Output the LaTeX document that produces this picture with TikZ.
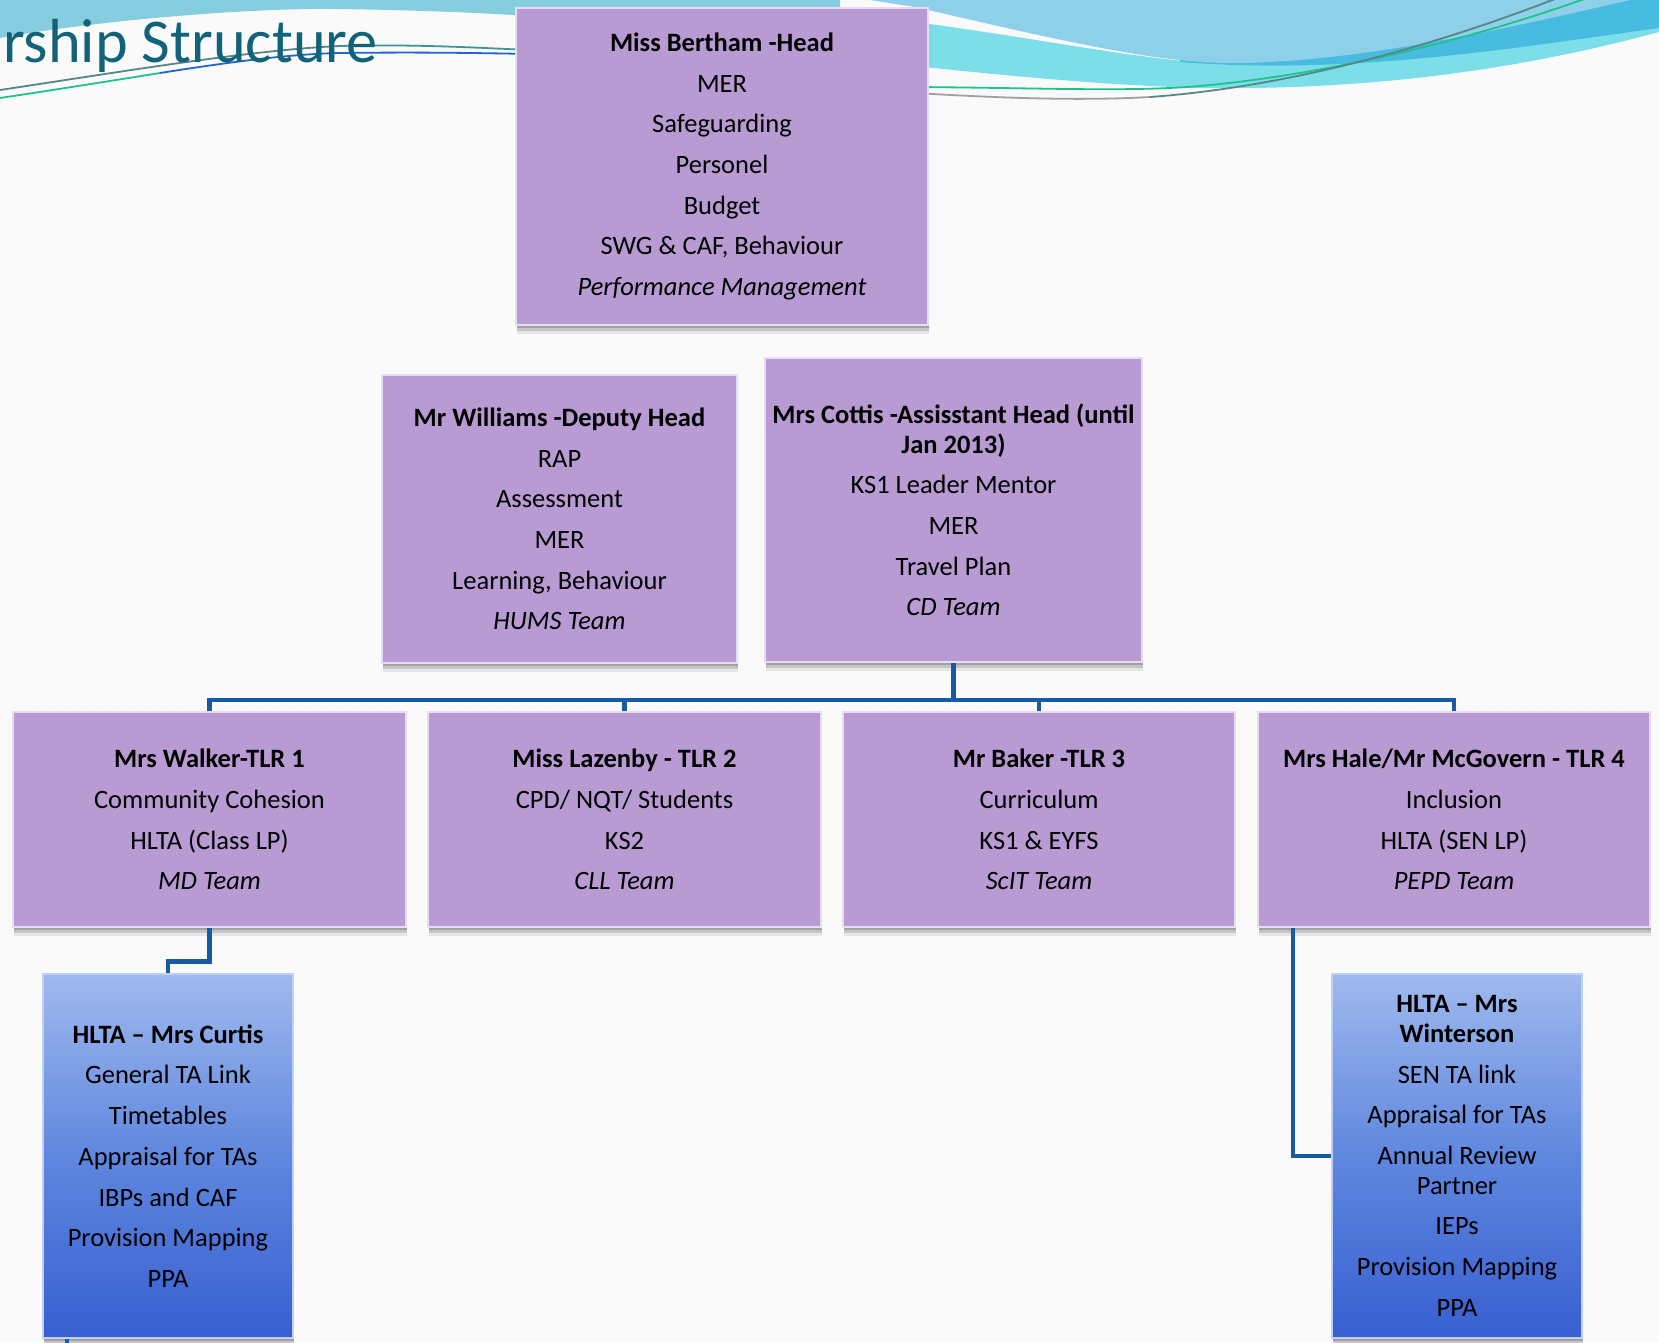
\documentclass[tikz,border=0pt]{standalone}
\usepackage{fontspec}
\setmainfont{Carlito}
\usetikzlibrary{shadows}
\definecolor{bg}{HTML}{FAFAFA}
\definecolor{boxpurple}{RGB}{185,155,211}
\definecolor{boxedge}{RGB}{232,220,243}
\definecolor{conn}{RGB}{25,90,165}
\definecolor{titleblue}{RGB}{18,98,122}
\definecolor{waveA}{RGB}{142,208,234}
\definecolor{waveC}{RGB}{124,222,233}
\definecolor{waveD}{RGB}{72,188,224}
\definecolor{waveL}{RGB}{134,205,223}
\definecolor{lteal}{RGB}{60,150,150}
\definecolor{ltealgrey}{RGB}{90,133,133}
\definecolor{lgreen}{RGB}{30,195,140}
\definecolor{lblue}{RGB}{35,100,205}
\definecolor{lgrey}{RGB}{160,160,160}
\definecolor{bluetop}{RGB}{160,185,238}
\definecolor{bluemid}{RGB}{95,135,222}
\definecolor{bluebot}{RGB}{55,95,208}
\definecolor{blueedge}{RGB}{190,208,245}
\newcommand{\itemgap}{\\[11.1pt]}
\begin{document}
\begin{tikzpicture}[x=1pt,y=-1pt,
  txt/.style={font=\fontsize{26.5}{29.6}\selectfont, align=center, text=black},
  softshadow/.style={
    drop shadow={shadow xshift=1pt, shadow yshift=-3pt, fill=black, opacity=0.18},
    drop shadow={shadow xshift=1pt, shadow yshift=-6pt, fill=black, opacity=0.14},
    drop shadow={shadow xshift=1pt, shadow yshift=-9pt, fill=black, opacity=0.08}},
  pbox/.style={txt, rectangle, fill=boxpurple, draw=boxedge, line width=2.5pt, inner sep=0pt, softshadow},
  bbox/.style={txt, rectangle, top color=bluetop, bottom color=bluebot, middle color=bluemid,
    draw=blueedge, line width=2.5pt, inner sep=0pt, softshadow},
  link/.style={draw=conn, line width=4.5pt},
  wline/.style={line width=1.8pt},
  ]
\useasboundingbox (0,0) rectangle (1659,1342);
\fill[bg] (0,0) rectangle (1659,1342);

% background waves
\fill[waveL] (0,0) -- (0,38) .. controls (100,20) and (250,8) .. (333,9) .. controls (420,10) and (480,13) .. (530,16) -- (530,12) -- (840,12) -- (840,0) -- cycle;
\fill[waveC] (915,22) .. controls (1050,40) and (1150,62) .. (1230,64) .. controls (1400,62) and (1550,20) .. (1659,0) -- (1659,32) .. controls (1500,75) and (1350,90) .. (1200,88) .. controls (1100,85) and (1000,75) .. (915,66) -- cycle;
\fill[waveD] (1180,62) .. controls (1350,75) and (1500,50) .. (1659,28) -- (1659,0) -- (1180,0) -- cycle;
\fill[waveA] (870,0) -- (915,7) .. controls (1050,38) and (1150,62) .. (1225,63) .. controls (1350,64) and (1500,30) .. (1630,0) -- cycle;

% thin swoosh lines
\draw[wline, ltealgrey] (0,90) .. controls (120,72) and (250,50) .. (340,46);
\draw[wline, lteal] (340,46) .. controls (420,44) and (480,48) .. (530,50);
\draw[wline, lgreen] (0,98) .. controls (60,89) and (110,81) .. (160,73);
\draw[wline, lblue] (160,73) .. controls (230,62) and (290,54) .. (340,53) .. controls (420,52) and (480,53) .. (530,54);
\draw[wline, lgreen] (915,87) .. controls (1050,88) and (1130,92) .. (1200,86) .. controls (1330,74) and (1470,40) .. (1590,-3);
\draw[wline, lgrey] (915,93) .. controls (1000,98) and (1080,101) .. (1150,97);
\draw[wline, ltealgrey] (1150,97) .. controls (1300,86) and (1450,40) .. (1560,-3);

% title
\node[anchor=base east, inner sep=0pt, font=\fontsize{62.3}{72}\selectfont, text=titleblue] (title) at (378,62) {rship Structure};

% boxes
\node[pbox, minimum width=412pt, minimum height=317pt] (head) at (722,166.5)
  {\textbf{Miss Bertham -Head}\itemgap MER\itemgap Safeguarding\itemgap Personel\itemgap Budget\itemgap SWG \& CAF, Behaviour\itemgap \textit{Performance Management}};
\node[pbox, minimum width=355pt, minimum height=288pt] (will) at (559.5,519)
  {\textbf{Mr Williams -Deputy Head}\itemgap RAP\itemgap Assessment\itemgap MER\itemgap Learning, Behaviour\itemgap \textit{HUMS Team}};
\node[pbox, minimum width=377pt, minimum height=304pt] (cot) at (953.5,510)
  {\textbf{Mrs Cottis -Assisstant Head (until}\\ \textbf{Jan 2013)}\itemgap KS1 Leader Mentor\itemgap MER\itemgap Travel Plan\itemgap \textit{CD Team}};
\node[pbox, minimum width=393pt, minimum height=215pt] (walk) at (209.5,819.5)
  {\textbf{Mrs Walker-TLR 1}\itemgap Community Cohesion\itemgap HLTA (Class LP)\itemgap \textit{MD Team}};
\node[pbox, minimum width=393pt, minimum height=215pt] (laz) at (624.5,819.5)
  {\textbf{Miss Lazenby - TLR 2}\itemgap CPD/ NQT/ Students\itemgap KS2\itemgap \textit{CLL Team}};
\node[pbox, minimum width=392pt, minimum height=215pt] (bak) at (1039,819.5)
  {\textbf{Mr Baker -TLR 3}\itemgap Curriculum\itemgap KS1 \& EYFS\itemgap \textit{ScIT Team}};
\node[pbox, minimum width=392pt, minimum height=215pt] (hale) at (1454,819.5)
  {\textbf{Mrs Hale/Mr McGovern - TLR 4}\itemgap Inclusion\itemgap HLTA (SEN LP)\itemgap \textit{PEPD Team}};
\node[bbox, minimum width=250pt, minimum height=364pt] (cur) at (168,1156)
  {\textbf{HLTA -- Mrs Curtis}\itemgap General TA Link\itemgap Timetables\itemgap Appraisal for TAs\itemgap IBPs and CAF\itemgap Provision Mapping\itemgap PPA};
\node[bbox, minimum width=250pt, minimum height=364pt] (win) at (1457,1156)
  {\textbf{HLTA -- Mrs}\\ \textbf{Winterson}\itemgap SEN TA link\itemgap Appraisal for TAs\itemgap Annual Review\\ Partner\itemgap IEPs\itemgap Provision Mapping\itemgap PPA};

% connectors
\coordinate (bus) at (0,700);
\draw[link] (cot.south) -- (cot.south |- bus);
\draw[link] (walk.north) -- (walk.north |- bus) -- (hale.north |- bus) -- (hale.north);
\draw[link] (laz.north) -- (laz.north |- bus);
\draw[link] (bak.north) -- (bak.north |- bus);
\draw[link] (walk.south) -- ++(0,33) -| (cur.north);
\draw[link] (hale.south west) ++(36,0) |- (win.west);
\coordinate (curdown) at (67,1350);
\draw[link] (cur.south -| curdown) -- (curdown);
\end{tikzpicture}
\end{document}
